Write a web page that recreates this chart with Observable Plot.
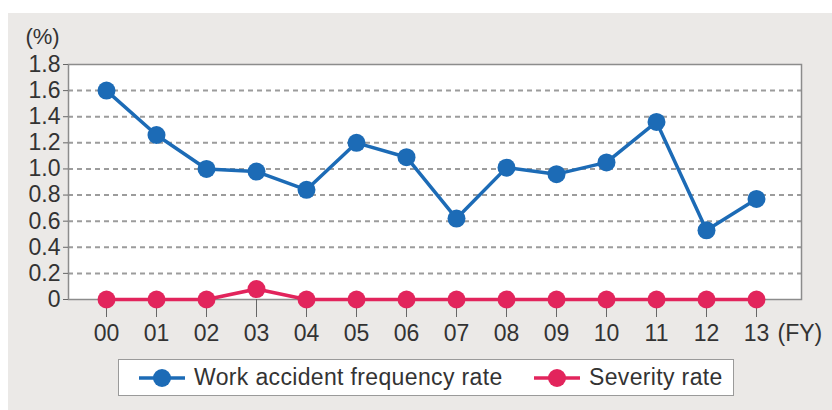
<!DOCTYPE html>
<html>
<head>
<meta charset="utf-8">
<script src="https://cdn.jsdelivr.net/npm/d3@7"></script>
<script src="https://cdn.jsdelivr.net/npm/@observablehq/plot@0.6"></script>
<style>
  html, body { margin: 0; padding: 0; background: #ffffff; }
  #wrap { position: relative; width: 832px; height: 410px; overflow: hidden; font-family: "Liberation Sans", Arial, sans-serif; }
  #bg { position: absolute; left: 8px; top: 13px; right: 0; bottom: 0; background: #ebe9e7; }
  #chart { position: absolute; left: 0; top: 0; }
  #legend { position: absolute; left: 118px; top: 359px; width: 614px; height: 35px; background: #fff; border: 1.5px solid #9a9a9a; }
  #legend .sw { position: absolute; top: 8px; }
  #legend .lbl { position: absolute; top: 4px; font-size: 23px; letter-spacing: 0.35px; color: #333; white-space: nowrap; }
</style>
</head>
<body>
<div id="wrap">
  <div id="bg"></div>
  <div id="chart"></div>
  <div id="legend"></div>
</div>
<script>
const yearLabels = ["00","01","02","03","04","05","06","07","08","09","10","11","12","13"];
const frequencyRate = [1.60, 1.26, 1.00, 0.98, 0.84, 1.20, 1.09, 0.62, 1.01, 0.96, 1.05, 1.36, 0.53, 0.77];
const severityRate  = [0, 0, 0, 0.08, 0, 0, 0, 0, 0, 0, 0, 0, 0, 0];
const yTicks = [0, 0.2, 0.4, 0.6, 0.8, 1.0, 1.2, 1.4, 1.6, 1.8];
const seriesNames = ["Work accident frequency rate", "Severity rate"];
const seriesColors = ["#1c6bb6", "#e2245c"];

const freqData = yearLabels.map((y, i) => ({year: y, value: frequencyRate[i]}));
const sevData = yearLabels.map((y, i) => ({year: y, value: severityRate[i]}));
const gridTicks = yTicks.filter(t => t > 0 && t < 1.8);

const plot = Plot.plot({
  width: 832,
  height: 345,
  marginLeft: 68,
  marginRight: 31,
  marginTop: 64,
  marginBottom: 46,
  style: {fontFamily: '"Liberation Sans", Arial, sans-serif', fontSize: "23px", color: "#333", background: "transparent", overflow: "visible"},
  x: {type: "point", domain: yearLabels, insetLeft: 37, insetRight: 45, padding: 0, label: null},
  y: {domain: [0, 1.8], label: null},
  marks: [
    Plot.frame({fill: "white", stroke: "none"}),
    Plot.ruleY(gridTicks, {stroke: "#9c9c9c", strokeWidth: 2, strokeDasharray: "5,4"}),
    Plot.frame({stroke: "#8c8c8c", strokeWidth: 1.5, fill: "none"}),
    Plot.axisY({ticks: yTicks, tickSize: 5, tickPadding: 3, tickFormat: d => d === 0 ? "0" : d.toFixed(1), stroke: "#666", fill: "#333", fontSize: 23, label: null}),
    Plot.axisX({tickSize: 18, tickPadding: 7, stroke: "#666", fill: "#333", fontSize: 23, label: null}),
    Plot.text(["(%)"], {frameAnchor: "top-left", dx: -26, dy: -28, fontSize: 22, fill: "#333", textAnchor: "middle", lineAnchor: "middle"}),
    Plot.text(["(FY)"], {x: () => "13", y: () => 0, dx: 21, dy: 34, textAnchor: "start", fontSize: 23, fill: "#333"}),
    Plot.line(sevData, {x: "year", y: "value", stroke: seriesColors[1], strokeWidth: 3.5}),
    Plot.dot(sevData, {x: "year", y: "value", r: 9, fill: seriesColors[1], stroke: "none"}),
    Plot.line(freqData, {x: "year", y: "value", stroke: seriesColors[0], strokeWidth: 3.5}),
    Plot.dot(freqData, {x: "year", y: "value", r: 9, fill: seriesColors[0], stroke: "none"})
  ]
});
document.getElementById("chart").appendChild(plot);

// Legend
const legend = document.getElementById("legend");
const swLeft = [20, 415];
const lblLeft = [75, 470];
seriesNames.forEach((name, i) => {
  const ns = "http://www.w3.org/2000/svg";
  const svg = document.createElementNS(ns, "svg");
  svg.setAttribute("width", 46);
  svg.setAttribute("height", 20);
  svg.setAttribute("class", "sw");
  svg.style.left = swLeft[i] + "px";
  const line = document.createElementNS(ns, "line");
  line.setAttribute("x1", 0); line.setAttribute("x2", 46);
  line.setAttribute("y1", 10); line.setAttribute("y2", 10);
  line.setAttribute("stroke", seriesColors[i]); line.setAttribute("stroke-width", 3.5);
  const c = document.createElementNS(ns, "circle");
  c.setAttribute("cx", 23); c.setAttribute("cy", 10); c.setAttribute("r", 9);
  c.setAttribute("fill", seriesColors[i]);
  svg.appendChild(line); svg.appendChild(c);
  legend.appendChild(svg);
  const lbl = document.createElement("span");
  lbl.className = "lbl";
  lbl.style.left = lblLeft[i] + "px";
  lbl.textContent = name;
  legend.appendChild(lbl);
});
</script>
</body>
</html>
